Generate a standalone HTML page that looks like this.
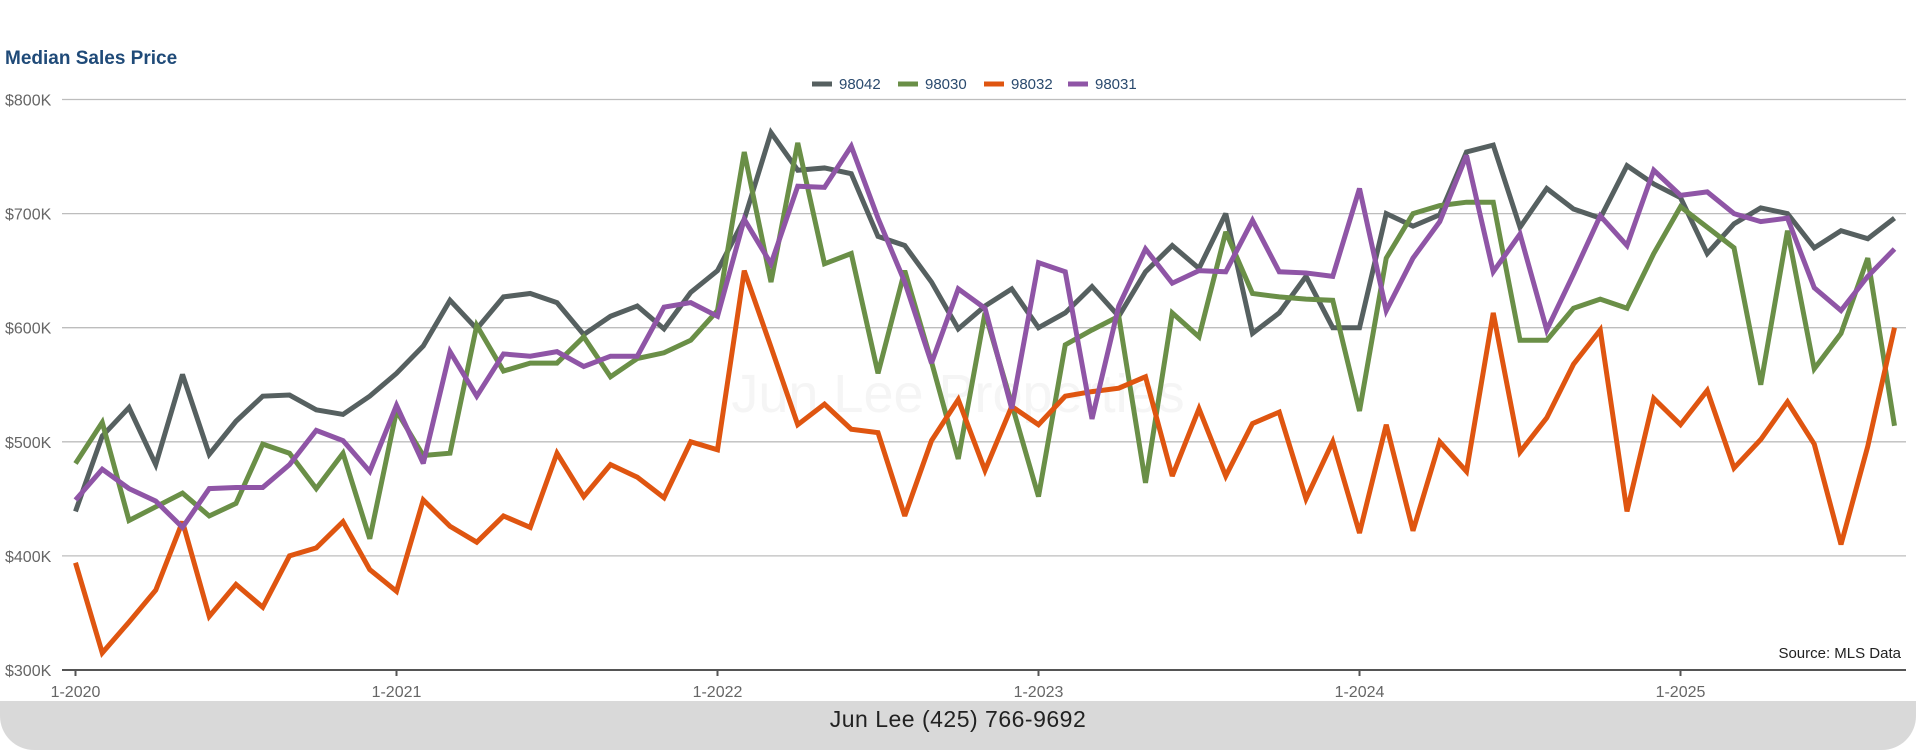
<!DOCTYPE html>
<html><head><meta charset="utf-8"><style>
html,body{margin:0;padding:0;background:#fff;}
body{width:1920px;height:750px;position:relative;overflow:hidden;font-family:"Liberation Sans",sans-serif;}
#footer{position:absolute;left:0;top:701px;width:1916px;height:49px;background:#d9d9d9;border-radius:0 0 34px 34px;}
#footer-text{position:absolute;left:0;width:1916px;top:706px;text-align:center;font-size:23px;color:#222;letter-spacing:0.5px;}
</style></head><body>
<div id="footer"></div>
<div id="footer-text">Jun Lee (425) 766-9692</div>
<svg id="chart" width="1920" height="701" style="position:absolute;left:0;top:0"></svg>
<script>
const categories = Array.from({length:69},(_, i)=>(i%12+1)+'-'+(2020+Math.floor(i/12)));
const yTicks = [300,400,500,600,700,800];
const xTickLabels = ['1-2020','1-2021','1-2022','1-2023','1-2024','1-2025'];
const seriesNames = ['98042','98030','98032','98031'];
const seriesColors = ['#566060','#6a8f47','#df5510','#8f55a6'];
const s98042 = [439,505,530,480,559,489,518,540,541,528,524,540,560,584,624,599,627,630,622,594,610,619,599,631,650,695,771,738,740,735,680,672,640,599,619,634,600,613,636,610,649,672,652,700,595,613,645,600,600,700,689,699,754,760,688,722,704,696,742,726,714,665,691,705,700,670,685,678,696];
const s98030 = [481,517,431,443,455,435,446,498,490,459,490,415,527,488,490,602,562,569,569,592,557,573,578,589,615,754,640,762,656,665,560,650,570,485,613,533,452,585,598,610,464,613,592,684,630,627,625,624,527,661,700,707,710,710,589,589,617,625,617,665,706,688,670,550,685,564,595,661,514];
const s98032 = [394,315,342,370,430,347,375,355,400,407,430,388,369,449,426,412,435,425,490,452,480,469,451,500,493,650,583,515,533,511,508,435,501,537,475,531,515,540,544,547,557,470,529,470,516,526,450,500,420,515,422,500,474,613,491,521,568,598,439,538,515,545,477,502,535,498,410,496,600];
const s98031 = [449,476,459,448,425,459,460,460,480,510,501,474,532,481,579,540,577,575,579,566,575,575,618,622,610,695,656,724,723,759,696,640,569,634,617,529,657,649,520,619,669,639,650,649,694,649,648,645,722,615,661,693,751,649,682,598,647,698,672,738,716,719,700,693,696,635,615,645,669];
const allSeries = [s98042,s98030,s98032,s98031];

const NS='http://www.w3.org/2000/svg';
const svg=document.getElementById('chart');
const x0=75.5, pxPerMonth=26.75, yTop=99.5, yBot=670, vMin=300, vMax=800;
function xScale(i){return x0+i*pxPerMonth;}
function yScale(v){return yBot-(v-vMin)/(vMax-vMin)*(yBot-yTop);}
function mk(tag,attrs,parent){const e=document.createElementNS(NS,tag);for(const k in attrs)e.setAttribute(k,attrs[k]);(parent||svg).appendChild(e);return e;}

let t=mk('text',{x:5,y:64,'font-size':19,'font-weight':'bold',fill:'#1f4a78'});t.textContent='Median Sales Price';



let wm=mk('text',{x:958,y:412,'font-size':54,fill:'#f5f5f5','text-anchor':'middle'});wm.textContent='Jun Lee Properties';



yTicks.forEach(v=>{
  if(v>vMin){const g=mk('line',{x1:62,x2:1906,y1:yScale(v),y2:yScale(v),stroke:'#bdbdbd','stroke-width':1.3});
  
  }
  const l=mk('text',{x:5,y:yScale(v)+6,'font-size':16,fill:'#666'});l.textContent='$'+v+'K';
  
  
});
const ax=mk('line',{x1:62,x2:1906,y1:yBot,y2:yBot,stroke:'#555','stroke-width':2});


xTickLabels.forEach((lab,k)=>{
  const xx=xScale(categories.indexOf(lab));
  const tk=mk('line',{x1:xx,x2:xx,y1:yBot,y2:yBot+6,stroke:'#555','stroke-width':2});
  
  
  const tl=mk('text',{x:xx,y:697,'font-size':16,fill:'#666','text-anchor':'middle'});tl.textContent=lab;
  
  
});
allSeries.forEach((s,k)=>{
  const p=mk('polyline',{points:s.map((v,i)=>xScale(i)+','+yScale(v)).join(' '),fill:'none',stroke:seriesColors[k],'stroke-width':5,'stroke-linejoin':'miter','stroke-miterlimit':3});
  
  
});
const legX=[812,898,984,1068];
seriesNames.forEach((n,k)=>{
  const g=mk('g',{});
  
  
  mk('line',{x1:legX[k],x2:legX[k]+20,y1:84,y2:84,stroke:seriesColors[k],'stroke-width':5},g);
  const tx=mk('text',{x:legX[k]+27,y:89,'font-size':15,fill:'#2a4a6e'},g);tx.textContent=n;
});
const src=mk('text',{x:1901,y:658,'font-size':15,fill:'#222','text-anchor':'end'});src.textContent='Source: MLS Data';


</script>
</body></html>
